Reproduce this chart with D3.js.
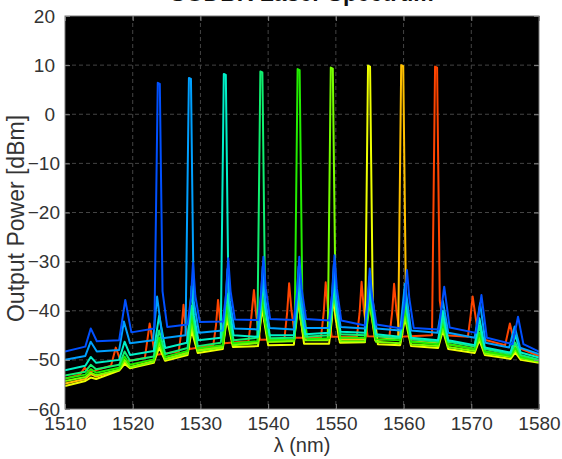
<!DOCTYPE html>
<html>
<head>
<meta charset="utf-8">
<script src="https://cdn.jsdelivr.net/npm/d3@7"></script>
<style>
  body { margin: 0; background: #fff; }
  svg { display: block; font-family: Arial, "Liberation Sans", sans-serif; }
</style>
</head>
<body>
<div id="chart"></div>
<script>
// tick labels
const wavelengthTicks = [1510, 1520, 1530, 1540, 1550, 1560, 1570, 1580];
const powerTicks = [-60, -50, -40, -30, -20, -10, 0, 10, 20];

// one spectrum per tuned channel, [wavelength nm, power dBm]
const channel1524 = [[1510,-48.3],[1513.0,-47.3],[1513.8,-43.6],[1514.7,-46.2],[1518.0,-46.0],[1518.9,-37.8],[1519.8,-44.4],
  [1523.2,-43.6],[1523.7,6.4],[1524.0,6.2],[1524.4,-36],[1525.1,-43.3],
  [1528.1,-42.8],[1528.6,-37.5],[1528.9,-30.3],[1529.25,-37],[1529.9,-42.3],
  [1533.3,-42.2],[1533.8,-36.5],[1534.1,-29.3],[1534.45,-36],[1535.1,-41.8],
  [1538.5,-41.9],[1539.0,-36],[1539.3,-29.0],[1539.65,-35.5],[1540.3,-41.7],
  [1543.8,-41.9],[1544.3,-36],[1544.6,-29.0],[1544.95,-35.5],[1545.6,-41.7],
  [1549.0,-42.0],[1549.5,-36],[1549.8,-28.7],[1550.15,-35.5],[1550.8,-42.0],
  [1554.3,-43.0],[1554.7,-37.5],[1555.0,-31.4],[1555.35,-37],[1556.0,-42.8],
  [1559.7,-43.6],[1560.2,-38],[1560.5,-31.7],[1560.85,-37.5],[1561.5,-43.5],
  [1565.2,-43.8],[1566.0,-35.1],[1566.8,-43.4],[1570.7,-44.5],[1571.5,-36.8],[1572.3,-45.5],
  [1576.1,-46.8],[1576.9,-41.2],[1577.7,-46.8],[1580,-48.3]];

const channel1528 = [[1510,-50.0],[1513.0,-49.2],[1513.8,-46.3],[1514.7,-48.3],[1518.0,-48.0],[1518.7,-42.2],[1519.6,-46.6],
  [1523.0,-46.0],[1523.6,-37.1],[1524.4,-45.6],
  [1527.8,-45.0],[1528.3,7.4],[1528.6,7.2],[1529.0,-38],[1529.8,-44.5],
  [1533.3,-44.0],[1533.7,-38.5],[1534.0,-31.5],[1534.35,-38],[1535.0,-43.6],
  [1538.5,-43.8],[1538.9,-38],[1539.2,-31.0],[1539.55,-37.5],[1540.2,-43.5],
  [1543.8,-43.8],[1544.2,-38],[1544.5,-31.0],[1544.85,-37.5],[1545.5,-43.5],
  [1549.0,-43.5],[1549.4,-37.5],[1549.7,-30.5],[1550.05,-37],[1550.7,-43.3],
  [1554.3,-43.6],[1554.7,-38.5],[1555.0,-33.0],[1555.35,-38],[1556.0,-43.6],
  [1559.5,-44.0],[1560.2,-34.5],[1561.1,-44.0],[1565.0,-44.5],[1565.8,-38.0],[1566.6,-44.5],
  [1570.5,-45.5],[1571.3,-38.5],[1572.1,-46.5],[1575.6,-47.5],[1576.4,-43.2],[1577.2,-47.5],[1580,-48.8]];

const channel1533 = [[1510,-52.1],[1513.0,-51.2],[1513.8,-49.4],[1514.6,-50.6],[1518.0,-50.0],[1518.8,-46.3],[1519.6,-49.0],
  [1523.1,-48.2],[1523.9,-41.0],[1524.8,-47.6],
  [1528.0,-46.5],[1528.4,-41.5],[1528.7,-35.0],[1529.05,-41],[1529.7,-46.0],
  [1533.0,-45.5],[1533.45,8.2],[1533.75,8.0],[1534.15,-38],[1534.9,-45.0],
  [1538.5,-45.3],[1538.9,-40],[1539.2,-33.5],[1539.55,-39.5],[1540.2,-45.0],
  [1543.8,-45.0],[1544.2,-40],[1544.5,-33.5],[1544.85,-39.5],[1545.5,-44.8],
  [1549.0,-44.5],[1549.4,-39.5],[1549.7,-33.0],[1550.05,-39],[1550.7,-44.3],
  [1554.3,-44.5],[1555.0,-35.0],[1555.9,-44.8],[1559.5,-45.3],[1560.2,-36.5],[1561.1,-45.5],
  [1565.1,-46.0],[1565.8,-40.0],[1566.6,-46.0],[1570.5,-47.0],[1571.2,-41.5],[1572.0,-47.5],
  [1575.8,-48.5],[1576.5,-45.0],[1577.3,-48.5],[1580,-49.5]];

const channel1539 = [[1510,-53.2],[1513.0,-52.4],[1513.8,-51.0],[1514.6,-51.9],[1518.0,-51.0],[1518.8,-48.3],[1519.6,-50.2],
  [1523.1,-49.3],[1523.9,-44.0],[1524.8,-48.8],[1528.1,-47.6],[1528.7,-39.0],[1529.6,-47.2],
  [1533.0,-46.5],[1533.5,-42],[1533.9,-36.5],[1534.25,-41.5],[1534.9,-46.0],
  [1538.4,-45.5],[1538.85,8.7],[1539.15,8.5],[1539.55,-38],[1540.3,-45.6],
  [1543.8,-45.5],[1544.2,-41],[1544.5,-35.0],[1544.85,-40.5],[1545.5,-45.3],
  [1549.0,-45.0],[1549.4,-40.5],[1549.7,-34.5],[1550.05,-40],[1550.7,-44.8],
  [1554.3,-45.0],[1555.0,-36.0],[1555.9,-45.2],[1559.5,-45.6],[1560.2,-38.0],[1561.1,-45.8],
  [1565.1,-46.3],[1565.8,-41.5],[1566.6,-46.3],[1570.5,-47.3],[1571.2,-43.0],[1572.0,-47.8],
  [1575.8,-48.8],[1576.5,-46.5],[1577.3,-49.0],[1580,-50.0]];

const channel1544 = [[1510,-53.8],[1513.0,-53.0],[1513.8,-51.9],[1514.6,-52.6],[1518.0,-51.6],[1518.8,-49.3],[1519.6,-51.0],
  [1523.1,-49.9],[1523.9,-45.5],[1524.8,-49.4],[1528.1,-48.2],[1528.7,-41.0],[1529.6,-47.7],
  [1533.3,-47.0],[1533.9,-39.0],[1534.8,-46.6],
  [1538.4,-46.2],[1538.8,-42],[1539.1,-36.5],[1539.45,-41.5],[1540.1,-46.0],
  [1543.9,-45.8],[1544.35,9.2],[1544.65,9.0],[1545.05,-38],[1545.8,-45.8],
  [1549.0,-45.6],[1549.7,-36.0],[1550.6,-45.5],[1554.3,-45.5],[1555.0,-37.5],[1555.9,-45.8],
  [1559.5,-46.0],[1560.2,-39.5],[1561.1,-46.3],[1565.1,-46.8],[1565.8,-42.5],[1566.6,-46.8],
  [1570.5,-47.8],[1571.2,-44.5],[1572.0,-48.3],[1575.8,-49.2],[1576.5,-47.5],[1577.3,-49.4],[1580,-50.2]];

const channel1549 = [[1510,-54.3],[1513.0,-53.5],[1513.8,-52.6],[1514.6,-53.1],[1518.0,-52.0],[1518.8,-50.0],[1519.6,-51.5],
  [1523.1,-50.4],[1523.9,-46.5],[1524.8,-49.9],[1528.1,-48.7],[1528.7,-42.5],[1529.6,-48.2],
  [1533.3,-47.5],[1533.9,-40.5],[1534.8,-47.0],[1538.5,-46.6],[1539.1,-38.0],[1540.0,-46.3],
  [1543.8,-46.2],[1544.2,-42],[1544.4,-36.5],[1544.75,-41.5],[1545.4,-46.0],
  [1548.8,-46.0],[1549.25,9.5],[1549.55,9.3],[1549.95,-38],[1550.7,-46.2],
  [1554.3,-46.2],[1555.0,-38.5],[1555.9,-46.3],[1559.5,-46.6],[1560.2,-41.0],[1561.1,-46.8],
  [1565.1,-47.2],[1565.8,-43.5],[1566.6,-47.4],[1570.5,-48.2],[1571.2,-45.5],[1572.0,-48.7],
  [1575.8,-49.4],[1576.5,-48.0],[1577.3,-49.6],[1580,-50.4]];

const channel1555 = [[1510,-55.3],[1513.0,-54.3],[1513.8,-53.6],[1514.6,-53.9],[1518.0,-52.2],[1518.8,-50.8],[1519.6,-51.7],
  [1523.1,-50.6],[1523.9,-47.5],[1524.8,-50.2],[1528.1,-49.0],[1528.7,-44.0],[1529.6,-48.6],
  [1533.3,-47.8],[1533.9,-41.5],[1534.8,-47.4],[1538.5,-47.2],[1539.1,-39.5],[1540.0,-47.0],
  [1543.8,-46.9],[1544.4,-37.5],[1545.3,-46.7],
  [1549.0,-46.7],[1549.4,-42],[1549.6,-36.5],[1549.95,-41.5],[1550.6,-46.5],
  [1554.3,-46.4],[1554.75,9.9],[1555.05,9.7],[1555.45,-38],[1556.2,-46.8],
  [1559.5,-47.0],[1560.2,-41.5],[1561.1,-47.2],[1565.1,-47.6],[1565.8,-44.0],[1566.6,-47.8],
  [1570.5,-48.6],[1571.2,-46.0],[1572.0,-49.0],[1575.8,-49.8],[1576.5,-48.5],[1577.3,-50.0],[1580,-50.6]];

const channel1560 = [[1510,-54.8],[1513.0,-53.9],[1513.8,-52.9],[1514.6,-53.4],[1518.0,-52.0],[1518.8,-50.3],[1519.6,-51.5],
  [1523.1,-50.2],[1523.9,-46.5],[1524.8,-49.8],[1528.1,-48.5],[1528.7,-43.0],[1529.6,-48.0],
  [1533.3,-47.2],[1533.9,-41.0],[1534.8,-46.8],[1538.5,-46.5],[1539.1,-39.0],[1540.0,-46.3],
  [1543.8,-46.1],[1544.4,-38.0],[1545.3,-45.9],[1549.0,-45.8],[1549.6,-37.0],[1550.5,-45.8],
  [1554.3,-45.8],[1554.9,-37.5],[1555.8,-46.0],
  [1559.2,-45.5],[1559.65,10.0],[1559.95,9.8],[1560.35,-38],[1561.1,-46.2],
  [1565.1,-46.6],[1565.8,-42.0],[1566.6,-46.8],[1570.5,-47.8],[1571.2,-44.5],[1572.0,-48.3],
  [1575.8,-49.2],[1576.5,-47.0],[1577.3,-49.4],[1580,-50.3]];

const channel1565 = [[1510,-53.8],[1512.2,-53.0],[1512.9,-51.6],[1513.6,-52.5],[1516.8,-51.2],[1517.5,-47.5],[1518.3,-50.5],
  [1521.8,-49.6],[1522.5,-42.6],[1523.3,-49.0],
  [1526.8,-48.3],[1527.2,-44],[1527.5,-38.8],[1527.85,-43.5],[1528.4,-47.8],
  [1531.9,-47.0],[1532.3,-43],[1532.6,-37.8],[1532.95,-42.5],[1533.5,-46.6],
  [1537.1,-46.2],[1537.5,-41.5],[1537.9,-35.8],[1538.25,-41],[1538.8,-45.9],
  [1542.4,-45.8],[1542.8,-40.5],[1543.1,-34.4],[1543.45,-40],[1544.0,-45.5],
  [1547.8,-45.5],[1548.2,-40.5],[1548.5,-34.2],[1548.85,-40],[1549.4,-45.3],
  [1553.1,-45.3],[1553.5,-40.5],[1553.8,-34.1],[1554.15,-40],[1554.7,-45.2],
  [1557.9,-45.3],[1558.3,-40.5],[1558.6,-34.5],[1558.95,-40],[1559.5,-45.3],
  [1564.2,-45.0],[1564.65,9.7],[1564.95,9.5],[1565.35,-38],[1566.1,-45.0],
  [1569.5,-45.3],[1569.9,-41],[1570.2,-37.1],[1570.55,-40.5],[1571.1,-45.6],
  [1575.0,-47.0],[1575.7,-42.6],[1576.5,-47.3],[1580,-49.2]];

const spectra = [channel1524, channel1528, channel1533, channel1539, channel1544,
  channel1549, channel1555, channel1560, channel1565];
// jet-like colours, same order as spectra
const traceColors = ['#0050ff', '#00a0ff', '#00f0c8', '#10f070', '#22ee00',
  '#78ff00', '#eeff00', '#ffc000', '#ff4500'];

const width = 562;
const height = 459;
const margin = { left: 65, top: 16, right: 23, bottom: 50 };
const innerWidth = width - margin.left - margin.right;
const innerHeight = height - margin.top - margin.bottom;

const svg = d3.select('#chart')
  .append('svg')
  .attr('width', width)
  .attr('height', height);

// title sits above the page edge, only its lowest pixels show
svg.append('text')
  .attr('x', margin.left + innerWidth / 2)
  .attr('y', 0.5)
  .attr('text-anchor', 'middle')
  .attr('font-size', 23)
  .attr('font-weight', 'bold')
  .attr('fill', '#111')
  .text('SGDBR Laser Spectrum');

const g = svg.append('g')
  .attr('transform', `translate(${margin.left},${margin.top})`);

const x = d3.scaleLinear().domain([1510, 1580]).range([0, innerWidth]);
const y = d3.scaleLinear().domain([-60, 20]).range([innerHeight, 0]);

g.append('rect')
  .attr('width', innerWidth)
  .attr('height', innerHeight)
  .attr('fill', '#000');

// dotted grid
g.append('g')
  .selectAll('line')
  .data(wavelengthTicks.slice(1, -1))
  .join('line')
  .attr('x1', d => x(d)).attr('x2', d => x(d))
  .attr('y1', 0).attr('y2', innerHeight)
  .attr('stroke', '#444')
  .attr('stroke-dasharray', '4,3');

g.append('g')
  .selectAll('line')
  .data(powerTicks.slice(1, -1))
  .join('line')
  .attr('x1', 0).attr('x2', innerWidth)
  .attr('y1', d => y(d)).attr('y2', d => y(d))
  .attr('stroke', '#444')
  .attr('stroke-dasharray', '4,3');

g.append('clipPath')
  .attr('id', 'plot-clip')
  .append('rect')
  .attr('width', innerWidth)
  .attr('height', innerHeight);

const line = d3.line()
  .x(d => x(d[0]))
  .y(d => y(d[1]));

// red drawn first, blue ends up on top
const order = d3.range(spectra.length).reverse();
g.append('g')
  .attr('clip-path', 'url(#plot-clip)')
  .selectAll('path')
  .data(order)
  .join('path')
  .attr('d', i => line(spectra[i]))
  .attr('fill', 'none')
  .attr('stroke', i => traceColors[i])
  .attr('stroke-width', 2)
  .attr('stroke-linejoin', 'round');

// axes, ticks pointing inward like matlab
function styleAxis(sel) {
  sel.attr('font-family', 'Arial, "Liberation Sans", sans-serif').attr('font-size', 19);
  sel.selectAll('.domain').remove();
  sel.selectAll('.tick line').attr('stroke', '#888');
  sel.selectAll('.tick text').attr('fill', '#333');
}

g.append('g')
  .attr('transform', `translate(0,${innerHeight})`)
  .call(d3.axisBottom(x).tickValues(wavelengthTicks).tickFormat(d3.format('d'))
    .tickSizeInner(-5).tickSizeOuter(0).tickPadding(8))
  .call(styleAxis);

g.append('g')
  .call(d3.axisTop(x).tickValues(wavelengthTicks).tickFormat('')
    .tickSizeInner(-5).tickSizeOuter(0))
  .call(styleAxis);

g.append('g')
  .call(d3.axisLeft(y).tickValues(powerTicks).tickFormat(d3.format('d'))
    .tickSizeInner(-5).tickSizeOuter(0).tickPadding(10))
  .call(styleAxis)
  // negative labels sit a little closer to the axis in the original
  .call(sel => sel.selectAll('.tick text').attr('x', d => d < 0 ? -5 : -10));

g.append('g')
  .attr('transform', `translate(${innerWidth},0)`)
  .call(d3.axisRight(y).tickValues(powerTicks).tickFormat('')
    .tickSizeInner(-5).tickSizeOuter(0))
  .call(styleAxis);

// frame
g.append('rect')
  .attr('width', innerWidth)
  .attr('height', innerHeight)
  .attr('fill', 'none')
  .attr('stroke', '#777');

// axis titles
svg.append('text')
  .attr('x', margin.left + innerWidth / 2)
  .attr('y', 452)
  .attr('text-anchor', 'middle')
  .attr('font-size', 20)
  .attr('fill', '#333')
  .text('λ (nm)');

svg.append('text')
  .attr('transform', `translate(24,${margin.top + innerHeight / 2 + 6}) rotate(-90)`)
  .attr('text-anchor', 'middle')
  .attr('font-size', 23)
  .attr('fill', '#333')
  .text('Output Power [dBm]');
</script>
</body>
</html>
